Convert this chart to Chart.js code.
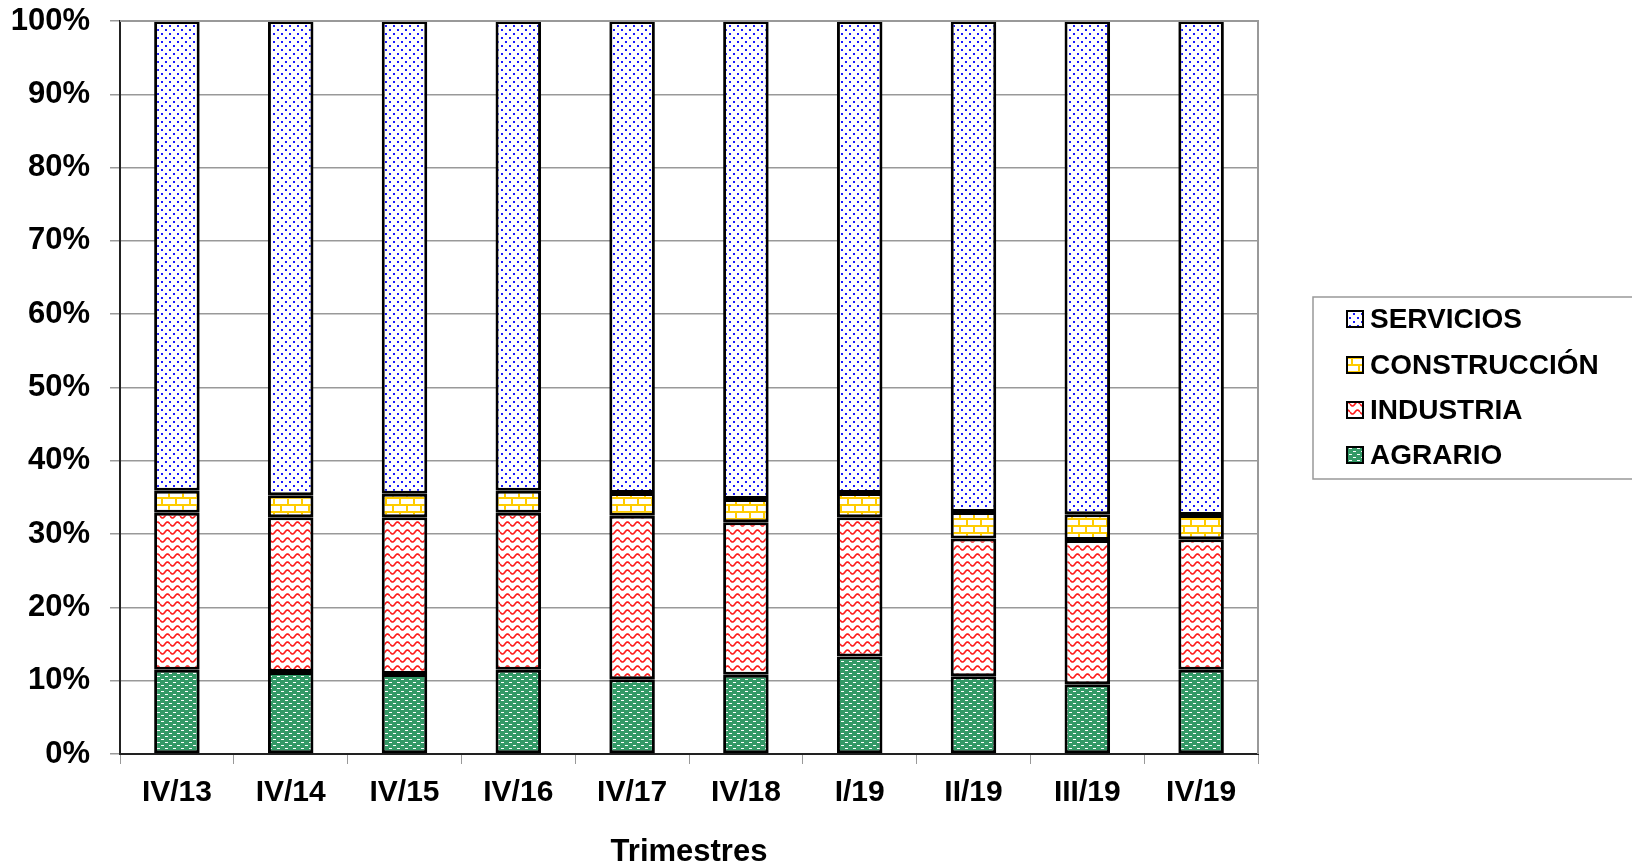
<!DOCTYPE html>
<html>
<head>
<meta charset="utf-8">
<script src="https://cdn.jsdelivr.net/npm/chart.js@4.4.1/dist/chart.umd.min.js"></script>
<style>
  html, body { margin: 0; padding: 0; background: #fff; }
  #wrap { width: 1632px; height: 867px; }
</style>
</head>
<body>
<div id="wrap"><canvas id="grafico" width="1632" height="867"></canvas></div>
<script>
// datos (% del total por trimestre)
const categorias = ['IV/13', 'IV/14', 'IV/15', 'IV/16', 'IV/17', 'IV/18', 'I/19', 'II/19', 'III/19', 'IV/19'];
const agrario      = [11.5, 11.2, 10.9, 11.5, 10.2, 10.8, 13.3, 10.6,  9.5, 11.5];
const industria    = [21.4, 21.1, 21.4, 21.4, 22.3, 20.8, 19.0, 18.8, 19.7, 17.8];
const construccion = [ 3.0,  3.0,  3.2,  3.0,  3.1,  3.2,  3.3,  3.6,  3.5,  3.3];
const servicios    = [64.1, 64.7, 64.5, 64.1, 64.4, 65.2, 64.4, 67.0, 67.3, 67.4];
const nombres = ['AGRARIO', 'INDUSTRIA', 'CONSTRUCCIÓN', 'SERVICIOS'];

const FUENTE = '"Liberation Sans", Arial, sans-serif';

// tramas de relleno
function trama(w, h, dibujar) {
    const c = document.createElement('canvas');
    c.width = w; c.height = h;
    const g = c.getContext('2d');
    dibujar(g, w, h);
    return g.createPattern(c, 'repeat');
}

const tramaServicios = trama(8, 8, (g, w, h) => {
    g.fillStyle = '#fff'; g.fillRect(0, 0, w, h);
    g.fillStyle = '#1a1aff';
    g.fillRect(1, 1, 2, 2);
    g.fillRect(5, 5, 2, 2);
});
const tramaConstruccion = trama(14, 14, (g, w, h) => {
    g.fillStyle = '#fff'; g.fillRect(0, 0, w, h);
    g.fillStyle = '#ffcc00';
    g.fillRect(0, 0, w, 2);
    g.fillRect(0, 7, w, 2);
    g.fillRect(0, 0, 2, 7);
    g.fillRect(7, 7, 2, 7);
});
const tramaIndustria = trama(10, 8, (g, w, h) => {
    g.fillStyle = '#fff'; g.fillRect(0, 0, w, h);
    g.strokeStyle = '#ff1a1a';
    g.lineWidth = 1.6;
    g.beginPath();
    for (let x = 0; x <= w; x += 0.5) {
        const y = 4 + 2 * Math.sin((x / w) * Math.PI * 2);
        if (x === 0) g.moveTo(x, y); else g.lineTo(x, y);
    }
    g.stroke();
});
const tramaAgrario = trama(8, 6, (g, w, h) => {
    g.fillStyle = '#339966'; g.fillRect(0, 0, w, h);
    g.fillStyle = '#ffffff';
    g.fillRect(1, 1, 3, 1);
    g.fillRect(5, 4, 3, 1);
});
const tramas = [tramaAgrario, tramaIndustria, tramaConstruccion, tramaServicios];

// leyenda con recuadro (orden inverso)
const leyenda = {
    id: 'leyenda',
    afterDraw(chart) {
        const ctx = chart.ctx;
        ctx.save();
        // marco del área
        const a = chart.chartArea;
        ctx.strokeStyle = '#999';
        ctx.lineWidth = 2;
        ctx.beginPath();
        ctx.moveTo(a.left, a.top);
        ctx.lineTo(a.right, a.top);
        ctx.lineTo(a.right, a.bottom);
        ctx.stroke();

        ctx.strokeStyle = '#999';
        ctx.lineWidth = 1.5;
        ctx.strokeRect(1313, 297, 340, 182);
        ctx.font = 'bold 28px ' + FUENTE;
        ctx.textBaseline = 'middle';
        ctx.fillStyle = '#000';
        const ys = [319, 365, 410, 455];
        for (let i = 0; i < 4; i++) {
            const k = 3 - i;
            const y = ys[i];
            ctx.fillStyle = tramas[k];
            ctx.fillRect(1347, y - 8, 16, 16);
            ctx.strokeStyle = '#000';
            ctx.lineWidth = 2;
            ctx.strokeRect(1347, y - 8, 16, 16);
            ctx.fillStyle = '#000';
            ctx.fillText(nombres[k], 1370, y + 1);
        }
        ctx.restore();
    }
};

const series = [agrario, industria, construccion, servicios];

new Chart(document.getElementById('grafico'), {
    type: 'bar',
    data: {
        labels: categorias,
        datasets: series.map((d, i) => ({
            label: nombres[i],
            data: d,
            backgroundColor: tramas[i],
            borderColor: '#000',
            borderWidth: 3,
            borderSkipped: false,
            categoryPercentage: 0.4,
            barPercentage: 1
        }))
    },
    options: {
        responsive: false,
        animation: false,
        layout: { padding: { top: 21, right: 374, left: 0, bottom: 0 } },
        plugins: { legend: { display: false }, tooltip: { enabled: false } },
        scales: {
            x: {
                stacked: true,
                grid: { drawOnChartArea: false, drawTicks: true, tickLength: 10, color: '#999', offset: true },
                border: { color: '#222', width: 2 },
                ticks: { color: '#000', font: { family: FUENTE, size: 30, weight: 'bold' }, padding: 11 },
                title: {
                    display: true, text: 'Trimestres', color: '#000',
                    font: { family: FUENTE, size: 31, weight: 'bold' },
                    padding: { top: 22, bottom: -4 }
                },
                afterFit: s => { s.height = 113; s.paddingLeft = 0; s.paddingRight = 0; }
            },
            y: {
                stacked: true,
                min: 0, max: 100,
                grid: { color: '#999', lineWidth: 1.5, tickLength: 10 },
                border: { color: '#222', width: 2 },
                ticks: {
                    stepSize: 10, color: '#000', padding: 20,
                    font: { family: FUENTE, size: 31, weight: 'bold' },
                    callback: v => v + '%'
                },
                afterFit: s => { s.width = 120; s.paddingTop = 0; s.paddingBottom = 0; }
            }
        }
    },
    plugins: [leyenda]
});
</script>
</body>
</html>
